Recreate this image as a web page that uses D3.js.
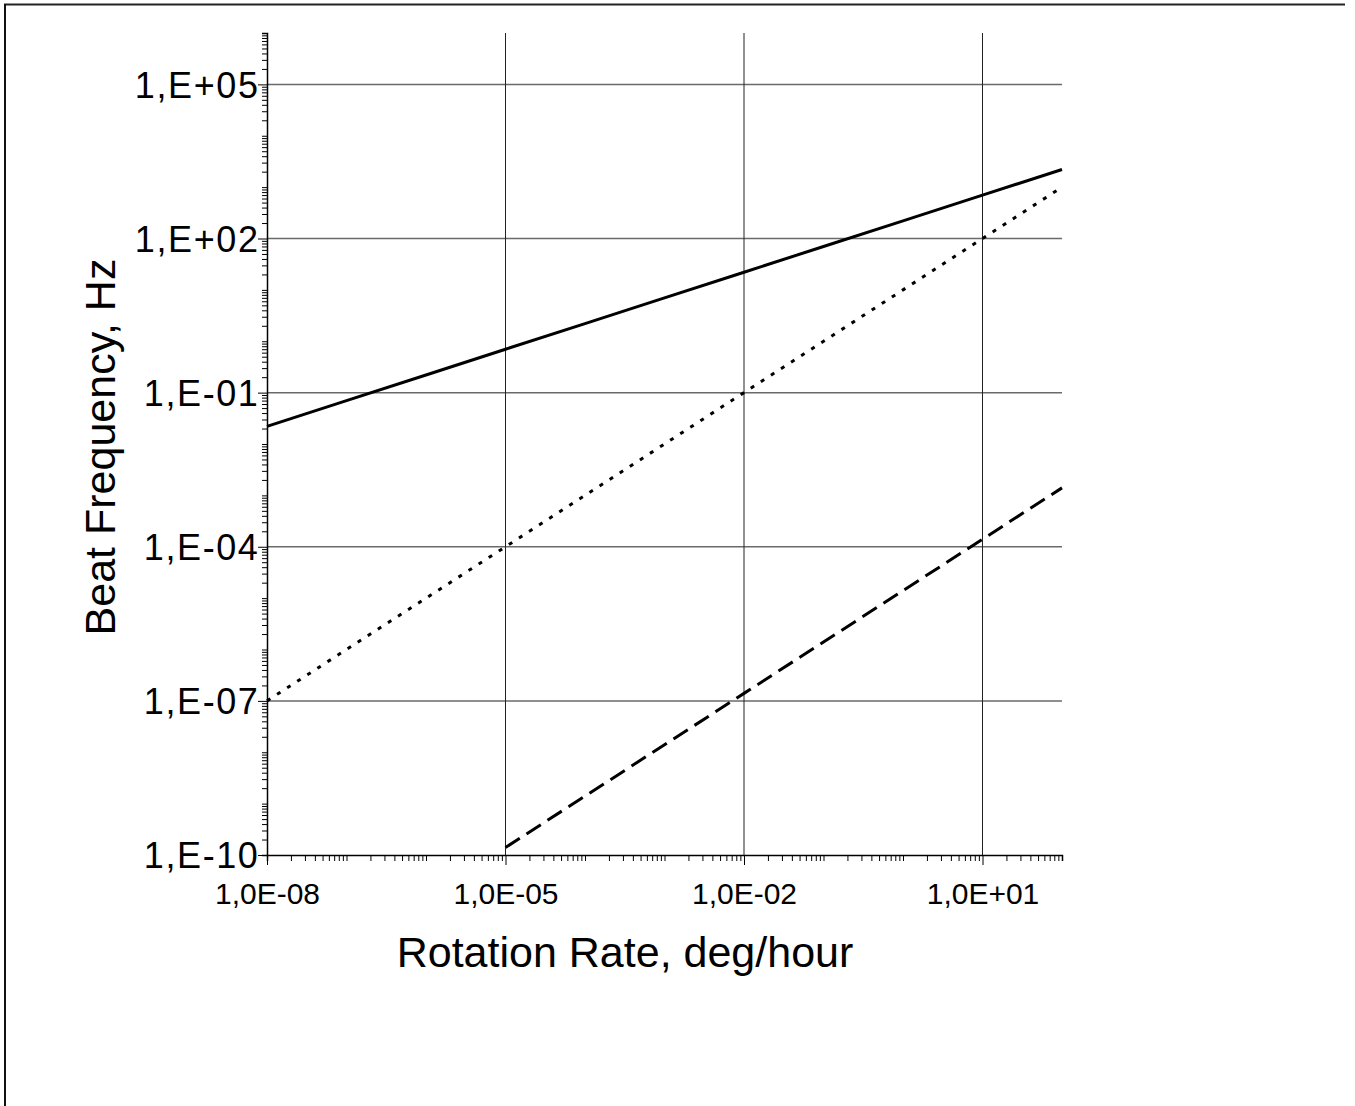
<!DOCTYPE html>
<html>
<head>
<meta charset="utf-8">
<script src="https://cdn.jsdelivr.net/npm/d3@7"></script>
<style>
  body { margin: 0; background: #fff; }
  text { font-family: "Liberation Sans", Arial, sans-serif; fill: #000; }
</style>
</head>
<body>
<svg id="chart" width="1355" height="1106"></svg>
<script>
// rotation rate, deg/hour (one point per decade)
var rates = [1e-8, 1e-7, 1e-6, 1e-5, 1e-4, 1e-3, 1e-2, 1e-1, 1, 10, 100];

// beat frequency, Hz
var solidBeat  = [0.022, 0.07, 0.22, 0.7, 2.2, 7, 22, 70, 220, 700, 2200];
var dottedBeat = [1e-7, 1e-6, 1e-5, 1e-4, 1e-3, 1e-2, 1e-1, 1, 10, 100, 1000];
// dashed curve only starts at 1e-5 deg/hour
var dashedRates = [1e-5, 1e-4, 1e-3, 1e-2, 1e-1, 1, 10, 100];
var dashedBeat  = [1.4e-10, 1.4e-9, 1.4e-8, 1.4e-7, 1.4e-6, 1.4e-5, 1.4e-4, 1.4e-3];

// decades that carry a label / grid line
var xMajor = [-8, -5, -2, 1];
var yMajor = [-10, -7, -4, -1, 2, 5];

var svg = d3.select("#chart");

// frame of the picture (only top and left visible)
svg.append("line").attr("x1", 4).attr("x2", 1345).attr("y1", 4.5).attr("y2", 4.5)
  .attr("stroke", "#222").attr("stroke-width", 2);
svg.append("line").attr("x1", 5).attr("x2", 5).attr("y1", 4).attr("y2", 1106)
  .attr("stroke", "#111").attr("stroke-width", 2);

var x = d3.scaleLog().domain([1e-8, 1e2]).range([267, 1062]);
var y = d3.scaleLog().domain([1e-10, 1e6]).range([855, 33]);

function allTicks(lo, hi) {
  var out = [];
  for (var k = lo; k < hi; k++) {
    for (var m = 1; m <= 9; m++) out.push(m * Math.pow(10, k));
  }
  out.push(Math.pow(10, hi));
  return out;
}
function expOf(v) { return Math.round(Math.log10(v)); }
function isMajor(v, list) {
  var e = Math.log10(v);
  return Math.abs(e - Math.round(e)) < 1e-9 && list.indexOf(Math.round(e)) >= 0;
}
function pad(e) { var a = Math.abs(e); return (e < 0 ? "-" : "+") + (a < 10 ? "0" : "") + a; }

// grid
svg.append("g").selectAll("line")
  .data(yMajor.slice(1))
  .enter().append("line")
    .attr("x1", 267).attr("x2", 1062)
    .attr("y1", function(d){ return y(Math.pow(10, d)); })
    .attr("y2", function(d){ return y(Math.pow(10, d)); })
    .attr("stroke", "#6a6a6a").attr("stroke-width", 1.5);
svg.append("g").selectAll("line")
  .data(xMajor.slice(1))
  .enter().append("line")
    .attr("x1", function(d){ return x(Math.pow(10, d)); })
    .attr("x2", function(d){ return x(Math.pow(10, d)); })
    .attr("y1", 33).attr("y2", 855)
    .attr("stroke", "#222").attr("stroke-width", 1);

// axes
var xAxis = d3.axisBottom(x)
  .tickValues(allTicks(-8, 2))
  .tickSize(6)
  .tickPadding(22)
  .tickFormat(function(d){ return isMajor(d, xMajor) ? "1,0E" + pad(expOf(d)) : ""; });
var gx = svg.append("g").attr("transform", "translate(0,855)").call(xAxis);

var yAxis = d3.axisLeft(y)
  .tickValues(allTicks(-10, 6))
  .tickSize(5)
  .tickPadding(2.5)
  .tickFormat(function(d){ return isMajor(d, yMajor) ? "1,E" + pad(expOf(d)) : ""; });
var gy = svg.append("g").attr("transform", "translate(267,0)").call(yAxis);

[gx, gy].forEach(function(g){
  g.select(".domain").attr("stroke", "#000").attr("stroke-width", 1.5);
  g.selectAll(".tick line").attr("stroke", "#000").attr("stroke-width", 1);
  g.selectAll(".tick text")
    .style("font-family", "'Liberation Sans', Arial, sans-serif").attr("fill", "#000");
});
gx.selectAll(".tick text").style("font-size", "30px");
gy.selectAll(".tick text").style("font-size", "36px").style("letter-spacing", "1.6px")
  .attr("dy", "0.36em");
gx.selectAll(".tick line").filter(function(d){ return isMajor(d, xMajor); }).attr("y2", 10);
gy.selectAll(".tick line").filter(function(d){ return isMajor(d, yMajor); }).attr("x2", -9);

// curves
var line = d3.line()
  .x(function(d){ return x(d[0]); })
  .y(function(d){ return y(d[1]); });

svg.append("path")
  .datum(d3.zip(rates, solidBeat))
  .attr("d", line)
  .attr("fill", "none").attr("stroke", "#000").attr("stroke-width", 3);

svg.append("path")
  .datum(d3.zip(rates, dottedBeat))
  .attr("d", line)
  .attr("fill", "none").attr("stroke", "#000").attr("stroke-width", 3)
  .attr("stroke-dasharray", "4,8");

svg.append("path")
  .datum(d3.zip(dashedRates, dashedBeat))
  .attr("d", line)
  .attr("fill", "none").attr("stroke", "#000").attr("stroke-width", 3)
  .attr("stroke-dasharray", "17,8");

// axis titles
svg.append("text")
  .attr("x", 625).attr("y", 967)
  .attr("text-anchor", "middle")
  .style("font-size", "43px")
  .text("Rotation Rate, deg/hour");

svg.append("text")
  .attr("transform", "translate(115,447) rotate(-90)")
  .attr("text-anchor", "middle")
  .style("font-size", "43px")
  .text("Beat Frequency, Hz");
</script>
</body>
</html>
